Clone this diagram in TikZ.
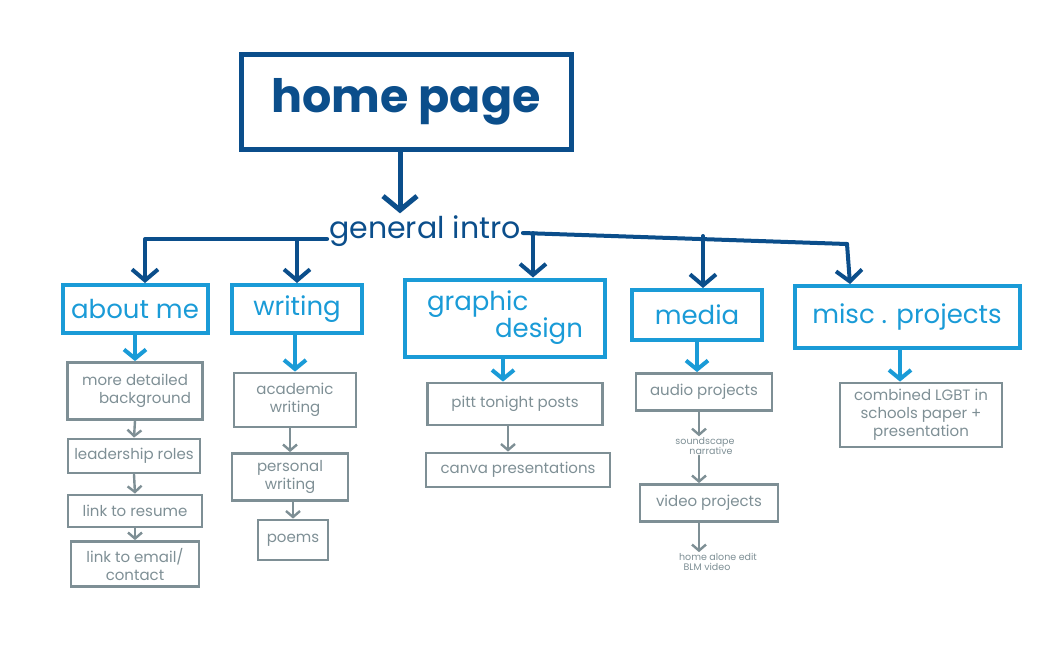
\documentclass[tikz,border=0pt]{standalone}
\usepackage{fontspec}
\setmainfont{Poppins}
\usetikzlibrary{arrows.meta}
\definecolor{dk}{HTML}{0B4E8B}
\definecolor{br}{HTML}{1A9BD7}
\definecolor{gr}{HTML}{7E8F95}
\tikzset{
  homebox/.style={draw=dk, line width=5, text=dk, minimum width=330, minimum height=95, inner sep=0, font=\fontsize{46}{46}\selectfont\bfseries},
  gitext/.style={text=dk, inner sep=2, font=\fontsize{30}{30}\selectfont},
  catbox/.style={draw=br, line width=4, text=br, inner sep=0, align=center, font=\fontsize{26}{27}\selectfont},
  grbox/.style={draw=gr, line width=2.8, text=gr, inner sep=0, align=center, font=\fontsize{15}{18}\selectfont},
  grtext/.style={text=gr, inner sep=1, align=center, font=\fontsize{9.5}{10}\selectfont},
  dkarr/.style={draw=dk, line width=4, line cap=round, line join=round, -{Straight Barb[length=11, width=26]}},
  dkline/.style={draw=dk, line width=4, line cap=round, line join=round},
  brarr/.style={draw=br, line width=4, line cap=round, -{Straight Barb[length=9, width=22]}},
  grarr/.style={draw=gr, line width=2.4, line cap=round, -{Straight Barb[length=6, width=14]}}
}
\begin{document}
\begin{tikzpicture}[x=1pt, y=-1pt]
\useasboundingbox (0,0) rectangle (1049,651);
% top
\node[homebox] (home) at (406,102) {home page};
\node[gitext] (gi) at (425,231) {general intro};
\draw[dkarr, line width=5, -{Straight Barb[length=14, width=34]}] (home.south -| 400,0) -- (gi.north -| 400,0);
% categories
\node[catbox, minimum width=145, minimum height=48] (about) at (135,309) {about me};
\node[catbox, minimum width=130, minimum height=48] (writing) at (297,309) {writing};
\node[catbox, minimum width=200, minimum height=77, align=left] (graphic) at (505,318) {graphic\\\hspace*{68pt}design};
\node[catbox, minimum width=130, minimum height=50] (media) at (697,315) {media};
\node[catbox, minimum width=225, minimum height=62] (misc) at (907,317) {misc . projects};
% general intro connectors
\coordinate (lj) at ([yshift=-8]gi.west);
\coordinate (rj) at ([yshift=-2]gi.east);
\coordinate (mj) at ([xshift=-60, yshift=40]misc.north);
\draw[dkarr] (lj) -| ([xshift=10]about.north);
\draw[dkarr] (writing.north |- lj) -- (writing.north);
\draw[dkline] (rj) -- (mj);
\draw[dkarr] (mj) -- ([xshift=-57]misc.north);
\draw[dkarr] ([xshift=28]graphic.north |- rj) -- ([xshift=28]graphic.north);
\draw[dkarr] ([xshift=6, yshift=52]media.north) -- ([xshift=6]media.north);
% about me column
\node[grbox, minimum width=135, minimum height=57] (more) at (135,391) {more detailed\\\hspace*{20pt}background};
\node[grbox, minimum width=132, minimum height=34] (lead) at (134,456) {leadership roles};
\node[grbox, minimum width=134, minimum height=32] (resume) at (135,511) {link to resume};
\node[grbox, minimum width=128, minimum height=45] (email) at (135,564) {link to email/\\contact};
\draw[brarr] (about.south) -- (more.north);
\draw[grarr] (more.south) -- (lead.north);
\draw[grarr] (lead.south) -- (resume.north);
\draw[grarr] (resume.south) -- (email.north);
% writing column
\node[grbox, minimum width=122, minimum height=54] (acad) at (295,400) {academic\\writing};
\node[grbox, minimum width=116, minimum height=47] (pers) at (290,477) {personal\\writing};
\node[grbox, minimum width=70, minimum height=40] (poems) at (293,540) {poems};
\draw[brarr] (about.south -| acad.north) -- (acad.north);
\draw[grarr] (acad.south -| pers.north) -- (pers.north);
\draw[grarr] (pers.south -| poems.north) -- (poems.north);
% graphic design column
\node[grbox, minimum width=175, minimum height=42] (pitt) at (515,404) {pitt tonight posts};
\node[grbox, minimum width=184, minimum height=34] (canva) at (518,470) {canva presentations};
\draw[brarr] (graphic.south -| 503,0) -- (pitt.north -| 503,0);
\draw[grarr] (pitt.south -| 508,0) -- (canva.north -| 508,0);
% media column
\node[grbox, minimum width=136, minimum height=37] (audio) at (704,392) {audio projects};
\node[grtext] (sound) at (705,446) {soundscape\\\hspace*{12pt}narrative};
\node[grbox, minimum width=138, minimum height=37] (video) at (709,503) {video projects};
\node[grtext] (homealone) at (718,562) {home alone edit\\BLM video\hspace*{22pt}};
\draw[brarr] (media.south) -- (media.south |- audio.north);
\draw[grarr] (audio.south -| 699,0) -- (sound.north -| 699,0);
\draw[grarr] (sound.south -| 699,0) -- (video.north -| 699,0);
\draw[grarr] (video.south -| 699,0) -- (homealone.north -| 699,0);
% misc column
\node[grbox, minimum width=162, minimum height=64] (lgbt) at (921,415) {combined LGBT in\\schools paper +\\presentation};
\draw[brarr] ([xshift=-7]misc.south) -- ([xshift=-7]misc.south |- lgbt.north);
\end{tikzpicture}
\end{document}
